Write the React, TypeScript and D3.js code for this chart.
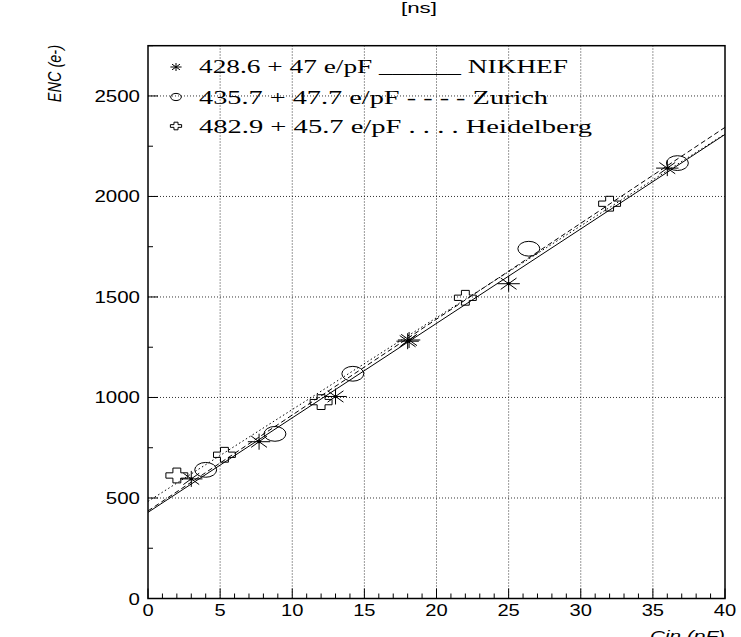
import * as d3 from 'd3';

// axis ticks
const xMajor = [0, 5, 10, 15, 20, 25, 30, 35, 40];
const yMajor = [0, 500, 1000, 1500, 2000, 2500];
const xMinor = d3.range(0, 41, 1);
const yMinor = d3.range(0, 2751, 250);

const nikhefX = [3.0, 7.7, 13.0, 18.0, 18.1, 25.0, 36.0];
const nikhefY = [595, 780, 1005, 1280, 1286, 1566, 2141];
const zurichX = [4.0, 8.8, 14.2, 26.4, 36.7];
const zurichY = [640, 819, 1118, 1740, 2166];
const heidelX = [2.0, 5.3, 12.0, 22.0, 32.0];
const heidelY = [612, 715, 977, 1496, 1964];

// linear fits: offset + slope * Cin
const fitOffset = [428.6, 435.7, 482.9];
const fitSlope = [47, 47.7, 45.7];
const fitDash = ['none', '5,3', '1.5,2.5'];
const legendLabels = [
  '428.6 + 47 e/pF ______ NIKHEF',
  '435.7 + 47.7 e/pF - - - - Zurich',
  '482.9 + 45.7 e/pF . . . . Heidelberg',
];
const legendWidths = [369, 349, 393];

const W = 741;
const H = 637;
const SX = 1.4; // the picture is stretched sideways

const x = d3.scaleLinear().domain([0, 40]).range([148, 725]);
const y = d3.scaleLinear().domain([0, 2750]).range([598.5, 45.7]);

function Star({ cx, cy, r = 8 }: { cx: number; cy: number; r?: number }) {
  const d = r * 0.707;
  const path = `M${cx - r * SX},${cy}L${cx + r * SX},${cy}` +
    `M${cx},${cy - r}L${cx},${cy + r}` +
    `M${cx - d * SX},${cy - d}L${cx + d * SX},${cy + d}` +
    `M${cx - d * SX},${cy + d}L${cx + d * SX},${cy - d}`;
  return (
    <g>
      <path d={path} stroke="#000" strokeWidth={1} fill="none" />
      <ellipse cx={cx} cy={cy} rx={r > 5 ? 2 : 0} ry={r > 5 ? 1.6 : 0} fill="#000" />
    </g>
  );
}

function Ring({ cx, cy, r = 7.4 }: { cx: number; cy: number; r?: number }) {
  return <ellipse cx={cx} cy={cy} rx={r * 1.48} ry={r} fill="none" stroke="#000" strokeWidth={1} />;
}

function Cross({ cx, cy, r = 7.4 }: { cx: number; cy: number; r?: number }) {
  const a = r * 1.48;
  const b = r;
  const ai = a * 0.36;
  const bi = b * 0.36;
  const pts = [
    [-ai, -b], [ai, -b], [ai, -bi], [a, -bi], [a, bi], [ai, bi],
    [ai, b], [-ai, b], [-ai, bi], [-a, bi], [-a, -bi], [-ai, -bi],
  ];
  const d = 'M' + pts.map(p => `${cx + p[0]},${cy + p[1]}`).join('L') + 'Z';
  return <path d={d} fill="none" stroke="#000" strokeWidth={1} />;
}

export default function App() {
  const line = d3.line<number>().x(v => x(v));
  const fitXs = [0, 40];

  return (
    <svg width={W} height={H} style={{ position: 'absolute', left: 0, top: 0, background: '#fff' }}
      fontFamily="Liberation Sans, Arial, sans-serif">
      <rect width={W} height={H} fill="#fff" />

      {/* title */}
      <text x={401} y={13} fontSize={15} textLength={36} lengthAdjust="spacingAndGlyphs">[ns]</text>

      {/* grid */}
      <g stroke="#000" strokeWidth={0.8} strokeDasharray="1,2">
        {xMajor.slice(1, -1).map(t => (
          <line key={'gx' + t} x1={x(t)} x2={x(t)} y1={y(0)} y2={y(2750)} />
        ))}
        {yMajor.slice(1).map(t => (
          <line key={'gy' + t} x1={x(0)} x2={x(40)} y1={y(t)} y2={y(t)} />
        ))}
      </g>

      {/* ticks */}
      <g stroke="#000" strokeWidth={1}>
        {xMinor.map(t => (
          <line key={'tx' + t} x1={x(t)} x2={x(t)} y1={y(0)} y2={y(0) - (t % 5 === 0 ? 10 : 5)} />
        ))}
        {yMinor.map(t => (
          <line key={'ty' + t} x1={x(0)} x2={x(0) + (t % 500 === 0 ? 10 : 5)} y1={y(t)} y2={y(t)} />
        ))}
      </g>

      {/* frame */}
      <rect x={x(0)} y={y(2750)} width={x(40) - x(0)} height={y(0) - y(2750)}
        fill="none" stroke="#000" strokeWidth={1.5} />

      {/* tick labels */}
      <g fontSize={16} fill="#000">
        {xMajor.map(t => {
          const s = String(t);
          return (
            <text key={'lx' + t} x={x(t) - s.length * 5.6} y={616}
              textLength={s.length * 11.2} lengthAdjust="spacingAndGlyphs">{s}</text>
          );
        })}
        {yMajor.map(t => {
          const s = String(t);
          return (
            <text key={'ly' + t} x={140 - s.length * 11.4} y={y(t) + 6}
              textLength={s.length * 11.4} lengthAdjust="spacingAndGlyphs">{s}</text>
          );
        })}
      </g>

      {/* axis titles */}
      <text transform={`translate(61,45) scale(1.3,1) rotate(-90)`} textAnchor="end"
        fontSize={14.5} fontStyle="italic">ENC (e-)</text>
      <text x={650} y={641} fontSize={15} fontStyle="italic" textLength={75}
        lengthAdjust="spacingAndGlyphs">Cin (pF)</text>

      {/* fits */}
      {fitOffset.map((a, i) => (
        <path key={'fit' + i}
          d={line.y(v => y(a + fitSlope[i] * v))(fitXs) || ''}
          fill="none" stroke="#000" strokeWidth={1} strokeDasharray={fitDash[i]} />
      ))}

      {/* points */}
      {heidelX.map((v, i) => <Cross key={'h' + i} cx={x(v)} cy={y(heidelY[i])} />)}
      {zurichX.map((v, i) => <Ring key={'z' + i} cx={x(v)} cy={y(zurichY[i])} />)}
      {nikhefX.map((v, i) => <Star key={'n' + i} cx={x(v)} cy={y(nikhefY[i])} />)}

      {/* legend */}
      <Star cx={176} cy={67} r={4} />
      <Ring cx={176} cy={97} r={3.6} />
      <Cross cx={176} cy={126} r={3.8} />
      <g style={{ fontFamily: '"Liberation Serif", "DejaVu Serif", "Times New Roman", serif' }}
        fontSize={19} fill="#000">
        {legendLabels.map((s, i) => (
          <text key={'lg' + i} x={199} y={[73, 104, 133][i]} textLength={legendWidths[i]}
            lengthAdjust="spacingAndGlyphs" xmlSpace="preserve">{s}</text>
        ))}
      </g>
    </svg>
  );
}
